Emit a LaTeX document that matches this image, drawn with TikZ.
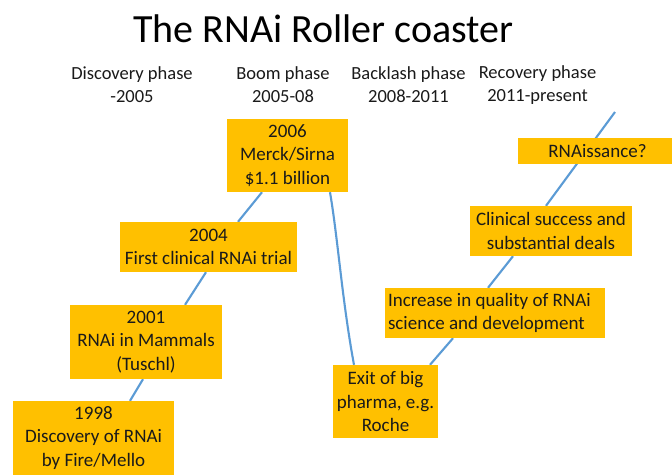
\documentclass[tikz,border=0pt]{standalone}
\usepackage{fontspec}
\setmainfont{Carlito}
\usetikzlibrary{backgrounds}
\definecolor{boxgold}{HTML}{FFC000}
\definecolor{coaster}{HTML}{5B9BD5}
\definecolor{ink}{HTML}{1A1A1A}
\begin{document}
\begin{tikzpicture}[x=1pt,y=-1pt,
  evbox/.style={fill=boxgold, inner sep=0pt, align=center, text=ink,
    font=\fontsize{19}{23.5}\selectfont},
  phaselbl/.style={inner sep=0pt, align=center, text=ink,
    font=\fontsize{18.5}{23}\selectfont},
  track/.style={draw=coaster, line width=2.1pt}]
\useasboundingbox (0,0) rectangle (672,475);

\node[inner sep=0pt, font=\fontsize{40}{44}\selectfont] (title) at (323.5,29) {The RNAi Roller coaster};

\node[phaselbl] (ph1) at (132,85) {Discovery phase\\-2005};
\node[phaselbl] (ph2) at (283,85) {Boom phase\\2005-08};
\node[phaselbl] (ph3) at (408.5,85) {Backlash phase\\2008-2011};
\node[phaselbl] (ph4) at (537.5,85) {Recovery phase\\2011-present};

\node[evbox, minimum width=121pt, minimum height=73pt] (n2006) at (287.5,155.5) {2006\\Merck/Sirna\\\$1.1 billion};
\node[evbox, minimum width=177pt, minimum height=50pt] (n2004) at (208.5,247) {2004\\First clinical RNAi trial};
\node[evbox, minimum width=152pt, minimum height=74pt] (n2001) at (146,342) {2001\\RNAi in Mammals\\(Tuschl)};
\node[evbox, minimum width=161pt, minimum height=74pt] (n1998) at (93.5,438) {1998\\Discovery of RNAi\\by Fire/Mello};
\node[evbox, minimum width=105pt, minimum height=73pt] (exit) at (385.5,401.5) {Exit of big\\pharma, e.g.\\Roche};
\node[evbox, minimum width=220pt, minimum height=50pt, align=flush left, text width=214pt, inner xsep=3pt] (incr) at (495,313) {Increase in quality of RNAi\\science and development};
\node[evbox, minimum width=162pt, minimum height=50pt] (clin) at (551,231) {Clinical success and\\substantial deals};
\node[evbox, minimum width=156pt, minimum height=26pt] (renai) at (596,151) {\hspace*{3pt}RNAissance?};

\coordinate (topend) at (615,112);

\begin{pgfonlayer}{background}
\fill[white] (0,0) rectangle (672,475);
\draw[track] ([xshift=36.5pt]n1998.north) -- ([xshift=-3pt]n2001.south);
\draw[track] ([xshift=39pt]n2001.north) -- ([xshift=-2.5pt]n2004.south);
\draw[track] ([xshift=29.5pt]n2004.north) -- ([xshift=-25.5pt]n2006.south);
\draw[track] ([xshift=42.5pt]n2006.south) .. controls +(8,47) and +(-12,-65) .. ([xshift=-31.5pt]exit.north);
\draw[track] ([xshift=44.5pt]exit.north) -- ([xshift=-42pt]incr.south);
\draw[track] ([xshift=-7pt]incr.north) -- ([xshift=-38pt]clin.south);
\draw[track] ([xshift=-5pt]clin.north) -- (topend);
\end{pgfonlayer}
\end{tikzpicture}
\end{document}
